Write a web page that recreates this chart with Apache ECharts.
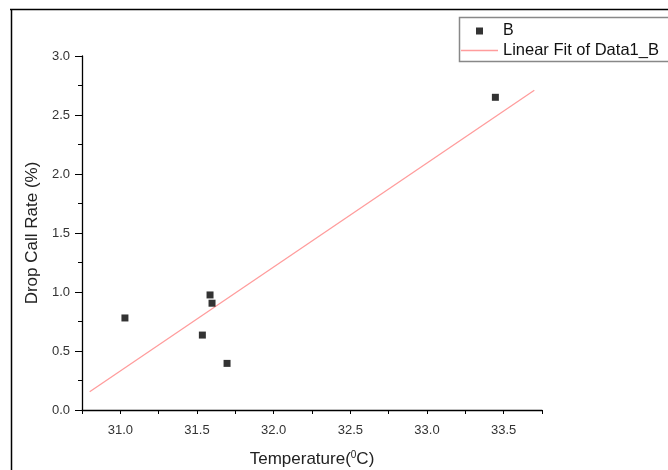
<!DOCTYPE html>
<html>
<head>
<meta charset="utf-8">
<script src="https://cdn.jsdelivr.net/npm/echarts@6/dist/echarts.min.js"></script>
<style>html,body{margin:0;padding:0;background:#fff}#c{width:668px;height:470px}</style>
</head>
<body>
<div id="c"></div>
<script>
// Data
var tempB = [31.03, 31.585, 31.598, 31.535, 31.696, 33.446];
var rateB = [0.78, 0.975, 0.905, 0.635, 0.395, 2.65];
var fitX = [30.8, 33.7];
var fitY = [0.155, 2.71];
var xMajorLabels = [31.0, 31.5, 32.0, 32.5, 33.0, 33.5];
var yLabels = [0.0, 0.5, 1.0, 1.5, 2.0, 2.5, 3.0];

var scatterData = tempB.map(function (x, i) { return [x, rateB[i]]; });
var fitData = fitX.map(function (x, i) { return [x, fitY[i]]; });

var font = '"Liberation Sans", Arial, sans-serif';
var fitColor = '#ff9c9c';
var chart = echarts.init(document.getElementById('c'), null, {renderer: 'canvas'});
chart.setOption({
  animation: false,
  backgroundColor: '#fff',
  grid: {left: 82, right: 126, top: 56, bottom: 60, containLabel: false, outerBoundsMode: 'none'},
  xAxis: {
    type: 'value', min: 30.75, max: 33.75, interval: 0.25,
    name: 'Temperature({sup|0}C)',
    nameLocation: 'middle', nameGap: 40,
    nameTextStyle: {fontFamily: font, fontSize: 17, color: '#222',
      rich: {sup: {fontSize: 10, verticalAlign: 'top', padding: [0, 0, 8, 0], color: '#222', fontFamily: font}}},
    axisLine: {show: true, onZero: false, lineStyle: {color: '#000', width: 1.3}},
    axisTick: {show: true, length: 4, lineStyle: {color: '#000', width: 1}},
    splitLine: {show: false},
    axisLabel: {
      fontFamily: font, fontSize: 13, color: '#333', margin: 14,
      formatter: function (v) {
        for (var i = 0; i < xMajorLabels.length; i++) {
          if (Math.abs(v - xMajorLabels[i]) < 1e-6) return xMajorLabels[i].toFixed(1);
        }
        return '';
      }
    }
  },
  yAxis: {
    type: 'value', min: 0, max: 3, interval: 0.5,
    name: 'Drop Call Rate (%)',
    nameLocation: 'middle', nameGap: 40,
    nameTextStyle: {fontFamily: font, fontSize: 17, color: '#222'},
    axisLine: {show: true, onZero: false, lineStyle: {color: '#000', width: 1.3}},
    axisTick: {show: true, length: 7, lineStyle: {color: '#000', width: 1}},
    minorTick: {show: true, splitNumber: 2, length: 4, lineStyle: {color: '#000', width: 1}},
    splitLine: {show: false},
    minorSplitLine: {show: false},
    axisLabel: {
      fontFamily: font, fontSize: 13, color: '#333', margin: 12,
      formatter: function (v) {
        for (var i = 0; i < yLabels.length; i++) {
          if (Math.abs(v - yLabels[i]) < 1e-6) return yLabels[i].toFixed(1);
        }
        return '';
      }
    }
  },
  legend: [
    {
      data: ['B'], orient: 'vertical', left: 471, top: 18, padding: 5,
      icon: 'rect', itemWidth: 7, itemHeight: 7,
      textStyle: {fontFamily: font, fontSize: 16, color: '#111', padding: [0, 0, 0, 15]},
      itemStyle: {color: '#000'},
      selectedMode: false
    },
    {
      data: ['Linear Fit of Data1_B'], orient: 'vertical', left: 456, top: 37, padding: 5,
      icon: 'rect', itemWidth: 37, itemHeight: 1.5,
      itemStyle: {color: fitColor},
      textStyle: {fontFamily: font, fontSize: 16.5, color: '#111', padding: [0, 0, 0, 0]},
      selectedMode: false
    }
  ],
  graphic: [
    {type: 'line', shape: {x1: 10, y1: 9.5, x2: 668, y2: 9.5}, style: {stroke: '#000', lineWidth: 1.5}, silent: true},
    {type: 'line', shape: {x1: 11.5, y1: 9, x2: 11.5, y2: 470}, style: {stroke: '#000', lineWidth: 1.5}, silent: true},
    {type: 'rect', shape: {x: 459.5, y: 17.5, width: 230, height: 44}, style: {fill: 'none', stroke: '#888', lineWidth: 1.5}, silent: true, z: 1}
  ],
  series: [
    {
      name: 'B', type: 'scatter', data: scatterData,
      symbol: 'rect', symbolSize: 7,
      itemStyle: {color: '#000'}, z: 3
    },
    {
      name: 'Linear Fit of Data1_B', type: 'line', data: fitData,
      showSymbol: false, symbol: 'none',
      lineStyle: {color: fitColor, width: 1.3},
      itemStyle: {color: fitColor}, z: 2
    }
  ]
});
</script>
</body>
</html>
